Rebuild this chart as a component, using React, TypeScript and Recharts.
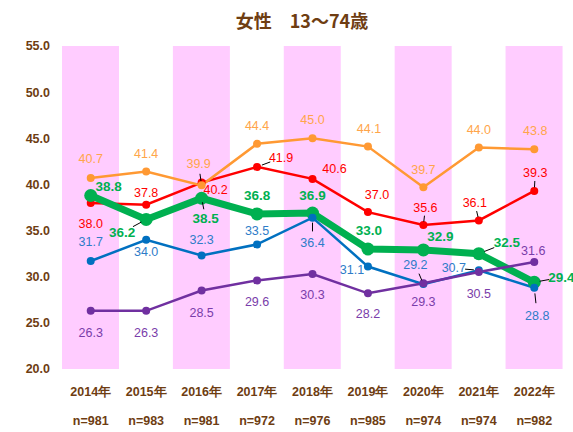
import React from 'react';
import { ComposedChart, Bar, Line, XAxis, YAxis, LabelList } from 'recharts';

const years = ['2014年', '2015年', '2016年', '2017年', '2018年', '2019年', '2020年', '2021年', '2022年'];
const sampleSizes = [981, 983, 981, 972, 976, 985, 974, 974, 982];

const orangeValues = [40.7, 41.4, 39.9, 44.4, 45.0, 44.1, 39.7, 44.0, 43.8];
const redValues = [38.0, 37.8, 40.2, 41.9, 40.6, 37.0, 35.6, 36.1, 39.3];
const greenValues = [38.8, 36.2, 38.5, 36.8, 36.9, 33.0, 32.9, 32.5, 29.4];
const blueValues = [31.7, 34.0, 32.3, 33.5, 36.4, 31.1, 29.2, 30.7, 28.8];
const purpleValues = [26.3, 26.3, 28.5, 29.6, 30.3, 28.2, 29.3, 30.5, 31.6];

const yTicks = [20, 25, 30, 35, 40, 45, 50, 55];

const BROWN = '#6E3D12';
const PINK = '#FFCCFF';

// label placement per point: [dx, dy, leader line?]
type Place = [number, number, boolean?];
const placements: Record<string, Place[]> = {
  orange: [[0, -19], [0, -18], [-3, -21, true], [0, -18], [0, -18], [1, -18], [0, -17], [0, -18], [1, -18]],
  red: [[0, 21], [0, -12], [14, 7], [24, -9, true], [22, -10], [9, -17], [2, -17, true], [-4, -17, true], [1, -18, true]],
  green: [[18, -9], [-24, 13, true], [4, 20, true], [0, -18], [0, -18], [1, -19], [17, -13], [28, -11, true], [27, -5, true]],
  blue: [[0, -19], [0, 12], [0, -15], [0, -13], [0, 25, true], [-16, 3], [-8, -19, true], [-25, -2, true], [3, 28, true]],
  purple: [[0, 22], [0, 22], [0, 22], [0, 22], [0, 21], [0, 21], [0, 19], [0, 22], [-1, -11]],
};

const data = years.map((year, i) => ({
  year,
  n: sampleSizes[i],
  orange: orangeValues[i],
  red: redValues[i],
  green: greenValues[i],
  blue: blueValues[i],
  purple: purpleValues[i],
}));

const makeLabel = (key: string, color: string, bold: boolean) => (props: any) => {
  const { x, y, value, index } = props;
  const [dx, dy, leader] = placements[key][index];
  return (
    <g>
      {leader && (
        <line
          x1={x + dx * 0.2}
          y1={y + dy * 0.2}
          x2={x + dx * 0.55}
          y2={y + dy * 0.55}
          stroke="#000"
          strokeWidth={1}
        />
      )}
      <text
        x={x + dx}
        y={y + dy}
        textAnchor="middle"
        dominantBaseline="central"
        fill={color}
        fontSize={bold ? 13.5 : 12.5}
        fontWeight={bold ? 'bold' : 'normal'}
        fontFamily="'Liberation Sans', sans-serif"
      >
        {Number(value).toFixed(1)}
      </text>
    </g>
  );
};

const BandShape = (props: any) => {
  const { x, width, index } = props;
  if (index % 2 !== 0) return <g />;
  return <rect x={x - 1} y={38} width={width + 2} height={394} fill={PINK} />;
};

const XTick = (props: any) => {
  const { x, y, payload, index } = props;
  return (
    <g fontFamily="'Liberation Sans', sans-serif" fontWeight="bold" fontSize={12.5} fill={BROWN}>
      <text x={x} y={y + 15} textAnchor="middle" dominantBaseline="central">
        {payload.value}
      </text>
      <text x={x} y={y + 44} textAnchor="middle" dominantBaseline="central">
        n={sampleSizes[index]}
      </text>
    </g>
  );
};

const series = [
  { key: 'red', color: '#FF0000', label: '#FF0000', width: 2.5, r: 4, bold: false },
  { key: 'orange', color: '#FF9933', label: '#FFA54A', width: 2.5, r: 4, bold: false },
  { key: 'green', color: '#00B050', label: '#00B050', width: 7, r: 6.5, bold: true },
  { key: 'blue', color: '#0070C0', label: '#2E7CC8', width: 2.5, r: 4, bold: false },
  { key: 'purple', color: '#7030A0', label: '#7A3DAA', width: 2.5, r: 4, bold: false },
];

export default function App() {
  return (
    <div style={{ position: 'absolute', left: 0, top: 0, width: 573, height: 432, background: '#fff' }}>
      <div
        style={{
          position: 'absolute',
          left: 0,
          top: 7,
          width: 604,
          textAlign: 'center',
          fontFamily: "'Noto Sans CJK JP', sans-serif",
          fontWeight: 'bold',
          fontSize: 18,
          color: BROWN,
          lineHeight: '26px',
          zIndex: 2,
        }}
      >
        女性　13～74歳
      </div>
      <ComposedChart
        width={573}
        height={432}
        data={data}
        margin={{ top: 46, right: 11, bottom: 0, left: 0 }}
        barCategoryGap={0}
        barGap={0}
      >
        <Bar dataKey={() => 55} shape={BandShape} isAnimationActive={false} />
        <XAxis
          dataKey="year"
          height={63}
          interval={0}
          axisLine={false}
          tickLine={false}
          tick={XTick}
        />
        <YAxis
          width={63}
          domain={[20, 55]}
          ticks={yTicks}
          allowDataOverflow
          axisLine={false}
          tickLine={false}
          tickMargin={7}
          tickFormatter={(v: number) => v.toFixed(1)}
          tick={{ fill: BROWN, fontSize: 12.5, fontWeight: 'bold', fontFamily: "'Liberation Sans', sans-serif" }}
        />
        {series.map((s) => (
          <Line
            key={s.key}
            type="linear"
            dataKey={s.key}
            stroke={s.color}
            strokeWidth={s.width}
            dot={{ r: s.r, fill: s.color, stroke: s.color, strokeWidth: 0 }}
            activeDot={false}
            isAnimationActive={false}
          >
            <LabelList dataKey={s.key} content={makeLabel(s.key, s.label, s.bold)} />
          </Line>
        ))}
      </ComposedChart>
    </div>
  );
}
